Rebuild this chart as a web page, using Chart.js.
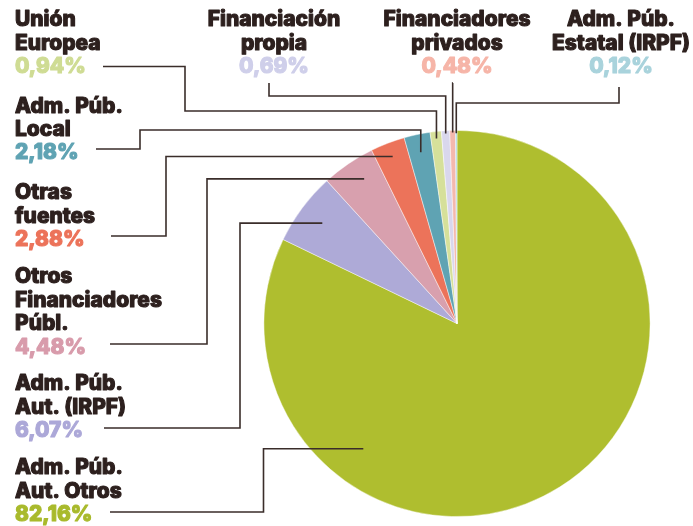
<!DOCTYPE html>
<html>
<head>
<meta charset="utf-8">
<script src="https://cdn.jsdelivr.net/npm/chart.js@4/dist/chart.umd.min.js"></script>
<style>
html,body{margin:0;padding:0;background:#fff;}
#wrap{width:693px;height:526px;position:relative;}
</style>
</head>
<body>
<div id="wrap"><canvas id="c" width="693" height="526"></canvas></div>
<script>
// ---- data ----
const categories = ['Adm. Púb. Aut. Otros', 'Adm. Púb. Aut. (IRPF)', 'Otros Financiadores Públ.', 'Otras fuentes', 'Adm. Púb. Local', 'Unión Europea', 'Financiación propia', 'Financiadores privados', 'Adm. Púb. Estatal (IRPF)'];
const values = [82.16, 6.07, 4.48, 2.88, 2.18, 0.94, 0.69, 0.48, 0.12];
const labelLines = [
  ['Adm. Púb.', 'Aut. Otros'],
  ['Adm. Púb.', 'Aut. (IRPF)'],
  ['Otros', 'Financiadores', 'Públ.'],
  ['Otras', 'fuentes'],
  ['Adm. Púb.', 'Local'],
  ['Unión', 'Europea'],
  ['Financiación', 'propia'],
  ['Financiadores', 'privados'],
  ['Adm. Púb.', 'Estatal (IRPF)']
];

// ---- styles ----
const sliceColors = ['#afbe2f', '#aeaad7', '#d8a0ae', '#ec735a', '#5fa3b3', '#d6e09a', '#d9d7ed', '#f4b8ad', '#a9d4de'];
const pctColors   = ['#a9ba2c', '#aca8d8', '#d89bab', '#ec735a', '#5fa3b3', '#cfdc94', '#cfcfea', '#f6b5a8', '#a9d3dc'];
const textColor = '#2d201e';
const lineColor = '#3a2d2a';

// label layout: x, align, first baseline, line step
const labelLayout = [
  {x: 15,  align: 'left',   y: 474, step: 23.5},
  {x: 15,  align: 'left',   y: 390, step: 23.5},
  {x: 15,  align: 'left',   y: 283, step: 23.7},
  {x: 15,  align: 'left',   y: 199, step: 23.5},
  {x: 15,  align: 'left',   y: 113, step: 23.2},
  {x: 15,  align: 'left',   y: 26,  step: 23.5},
  {x: 274, align: 'center', y: 26,  step: 23.5},
  {x: 457, align: 'center', y: 26,  step: 23.5},
  {x: 621, align: 'center', y: 26,  step: 23.5}
];
// leader routes: fixed waypoints from label side, then entry mode into slice
const leaders = [
  {pts: [[110, 512], [263.5, 512]], mode: 'h', t: 0.733, rf: 0.81},
  {pts: [[104, 428], [240, 428]],   mode: 'h', t: 0.5,   rf: 0.87},
  {pts: [[110, 344], [207, 344]],   mode: 'h', t: 0.6,   rf: 0.89},
  {pts: [[111, 236], [166, 236]],   mode: 'h', t: 0.5,   rf: 0.927},
  {pts: [[96, 149], [140, 149], [140, 130]], mode: 'v', t: 0.5, rf: 0.906},
  {pts: [[103, 66.5], [185, 66.5], [185, 111]], mode: 'v', t: 0.5, rf: 0.964},
  {pts: [[269, 83], [269, 96]], mode: 'v', t: 0.5, rf: 0.986},
  {pts: [[453, 83]], mode: 'v', t: 0.5, rf: 0.99},
  {pts: [[619, 87], [619, 103]], mode: 'v', t: 0.5, rf: 0.985}
];

function pctText(v){ return v.toFixed(2).replace('.', ',') + '%'; }

const labelsPlugin = {
  id: 'labelsPlugin',
  afterDatasetsDraw(chart) {
    const ctx = chart.ctx;
    const meta = chart.getDatasetMeta(0);
    // leader lines
    ctx.save();
    ctx.strokeStyle = lineColor;
    ctx.lineWidth = 1.6;
    ctx.lineJoin = 'miter';
    leaders.forEach((L, i) => {
      const arc = meta.data[i];
      const p = arc.getProps(['x', 'y', 'startAngle', 'endAngle', 'outerRadius'], true);
      const a = p.startAngle + L.t * (p.endAngle - p.startAngle);
      const px = p.x + Math.cos(a) * p.outerRadius * L.rf;
      const py = p.y + Math.sin(a) * p.outerRadius * L.rf;
      const pts = L.pts.slice();
      const last = pts[pts.length - 1];
      if (L.mode === 'v') { pts.push([px, last[1]]); pts.push([px, py]); }
      else { pts.push([last[0], py]); pts.push([px, py]); }
      ctx.beginPath();
      pts.forEach((q, k) => k ? ctx.lineTo(q[0], q[1]) : ctx.moveTo(q[0], q[1]));
      ctx.stroke();
    });
    ctx.restore();

    // labels
    ctx.save();
    const family = 'Inter, "Open Sans", Lato, sans-serif';
    let size = 20;
    ctx.font = `800 ${size}px ${family}`;
    const w = ctx.measureText('Financiadores').width;
    size = Math.max(16, Math.min(22, size * 147 / w));
    ctx.font = `800 ${size}px ${family}`;
    ctx.textBaseline = 'alphabetic';
    ctx.lineWidth = 1.1;
    ctx.lineJoin = 'round';
    categories.forEach((c, i) => {
      const lay = labelLayout[i];
      ctx.textAlign = lay.align;
      const lines = labelLines[i];
      ctx.fillStyle = textColor;
      ctx.strokeStyle = textColor;
      lines.forEach((ln, k) => {
        ctx.fillText(ln, lay.x, lay.y + k * lay.step);
        ctx.strokeText(ln, lay.x, lay.y + k * lay.step);
      });
      ctx.fillStyle = pctColors[i];
      ctx.strokeStyle = pctColors[i];
      const yp = lay.y + lines.length * lay.step;
      ctx.fillText(pctText(values[i]), lay.x, yp);
      ctx.strokeText(pctText(values[i]), lay.x, yp);
    });
    ctx.restore();
  }
};

new Chart(document.getElementById('c'), {
  type: 'pie',
  data: {
    labels: categories,
    datasets: [{
      data: values,
      backgroundColor: sliceColors,
      borderColor: 'rgba(255,255,255,0.55)',
      borderWidth: 0.8
    }]
  },
  options: {
    responsive: false,
    animation: false,
    events: [],
    layout: { padding: { top: 130, bottom: 9, left: 263.5, right: 42.5 } },
    plugins: { legend: { display: false }, tooltip: { enabled: false } }
  },
  plugins: [labelsPlugin]
});
</script>
</body>
</html>
